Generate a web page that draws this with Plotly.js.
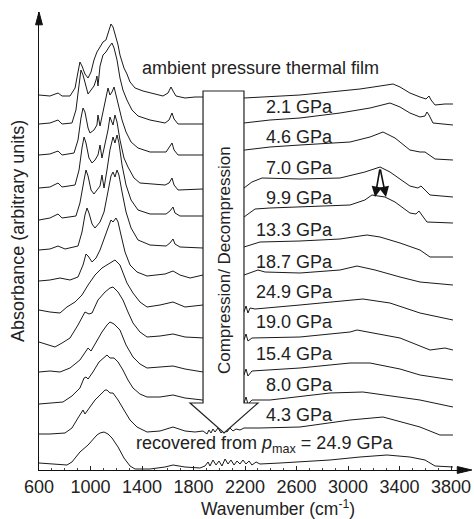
<!DOCTYPE html>
<html><head><meta charset="utf-8">
<script src="https://cdn.plot.ly/plotly-3.0.1.min.js"></script>
<style>html,body{margin:0;padding:0;background:#fff;}#chart{width:474px;height:519px;}</style>
</head><body><div id="chart"></div>
<script>
// Wavenumber (cm-1) and stacked absorbance (arbitrary units)
const wn_amb  = [600,685,748,779,841,880,903,918,934,957,981,1004,1027,1050,1074,1097,1120,1136,1159,1175,1190,1214,1229,1260,1283,1307,1346,1408,1501,1563,1602,1625,1641,1664,1734,1812,1874,1967,2192,2316,2627,2860,3093,3249,3350,3404,3481,3559,3606,3629,3645,3676,3753,3815];
const ab_amb  = [375,374,377,374,374,382,398,408,404,396,392,398,410,418,423,428,430,437,446,443,437,425,415,402,396,388,382,379,376,374,377,383,379,374,372,373,373,372,372,373,375,378,381,384,386,383,377,373,371,374,370,365,366,366];
const wn_p21  = [600,685,748,779,856,887,911,926,942,965,981,1004,1027,1043,1050,1058,1074,1097,1120,1144,1167,1183,1206,1229,1252,1283,1322,1369,1462,1579,1610,1633,1649,1680,1874,2005,2192,2394,2627,2938,3171,3326,3404,3481,3559,3598,3613,3629,3660,3815];
const ab_p21  = [346,347,350,346,347,360,385,400,395,382,376,380,384,390,394,384,404,415,418,423,427,422,410,392,380,370,360,354,350,347,350,357,351,346,346,346,347,350,352,357,362,367,363,357,353,354,358,355,347,345];
const wn_p46  = [600,685,748,779,872,903,926,942,957,981,996,1027,1050,1058,1074,1097,1120,1136,1151,1167,1183,1198,1221,1245,1276,1315,1369,1462,1587,1610,1633,1649,1680,1874,2005,2192,2394,2627,3016,3171,3272,3365,3481,3559,3598,3676,3815];
const ab_p46  = [315,316,319,315,317,330,352,362,358,342,337,340,345,355,344,358,370,382,375,378,383,375,362,350,338,328,322,318,318,322,327,320,315,315,317,320,323,325,328,333,338,332,320,318,318,311,310];
const wn_p70  = [600,685,748,779,880,911,934,950,965,988,1012,1035,1058,1074,1089,1113,1136,1151,1167,1175,1190,1206,1229,1260,1291,1338,1384,1579,1610,1633,1649,1680,1874,2005,2192,2254,2332,2627,2938,3131,3249,3326,3481,3543,3567,3590,3637,3815];
const ab_p70  = [282,283,287,283,285,300,322,333,327,312,307,310,315,325,312,325,340,353,347,345,355,348,330,312,303,292,287,285,287,292,285,280,281,281,282,288,292,291,292,298,303,298,284,282,284,281,275,273];
const wn_p99  = [600,685,748,779,887,918,950,965,981,1004,1027,1050,1074,1089,1105,1128,1151,1175,1190,1206,1221,1245,1276,1315,1369,1462,1587,1617,1641,1656,1695,1874,2005,2192,2278,2394,2627,3016,3131,3186,3287,3365,3481,3528,3551,3574,3613,3815];
const ab_p99  = [250,252,256,252,254,267,290,300,294,280,276,280,284,295,282,300,320,333,327,335,327,305,285,270,260,256,256,259,263,257,254,254,253,253,261,262,263,265,270,275,273,268,257,256,259,255,248,247];
const wn_p133 = [600,685,748,802,903,934,957,973,988,1012,1035,1074,1105,1136,1159,1175,1190,1206,1221,1245,1276,1315,1369,1462,1587,1617,1641,1656,1695,1874,2005,2192,2316,2627,2938,3093,3148,3249,3404,3559,3637,3815];
const ab_p133 = [220,221,224,221,224,238,255,262,257,246,242,248,258,280,294,298,293,300,295,278,258,242,230,225,224,227,231,226,223,222,222,223,228,229,231,234,235,233,227,220,213,213];
const wn_p187 = [600,685,763,841,903,942,965,981,1012,1043,1074,1105,1136,1159,1175,1198,1214,1237,1268,1307,1361,1439,1579,1641,1695,1773,1874,2005,2192,2301,2355,2627,2938,3070,3210,3404,3559,3815];
const ab_p187 = [189,190,192,190,193,205,216,214,208,212,220,230,242,250,248,252,248,235,218,205,198,194,196,199,195,192,195,195,195,200,198,197,200,204,200,193,188,185];
const wn_p249 = [600,685,763,817,880,934,981,1035,1089,1136,1190,1229,1283,1330,1384,1439,1540,1641,1734,1874,2005,2192,2208,2223,2239,2278,2627,3016,3116,3326,3559,3815];
const ab_p249 = [160,158,157,163,168,175,185,195,202,206,210,205,187,177,168,163,165,168,163,165,162,158,164,157,162,161,165,170,171,167,157,150];
const wn_d190 = [600,670,724,779,841,903,957,988,1012,1058,1113,1151,1175,1214,1252,1291,1330,1384,1439,1540,1641,1734,1874,2005,2192,2208,2223,2254,2627,3016,3070,3404,3637,3753,3815];
const ab_d190 = [128,125,123,127,132,145,158,156,157,170,178,182,183,178,170,158,147,138,133,134,136,133,132,131,130,136,129,132,133,138,140,132,120,122,120];
const wn_d154 = [600,685,763,841,918,965,981,1004,1043,1089,1128,1151,1183,1229,1276,1330,1384,1439,1540,1641,1734,1874,2005,2192,2208,2223,2254,2627,3016,3171,3404,3559,3815];
const ab_d154 = [98,99,98,102,110,120,122,119,128,138,145,148,146,140,125,113,106,102,103,104,101,98,97,95,101,94,99,102,107,107,101,95,90];
const wn_d80  = [600,685,786,856,918,950,965,981,1019,1066,1105,1128,1151,1183,1214,1252,1291,1330,1384,1439,1540,1641,1734,1874,2005,2192,2208,2223,2254,2394,2860,3116,3559,3815];
const ab_d80  = [66,67,68,74,82,92,93,91,98,108,113,115,112,112,108,100,90,82,76,73,73,75,72,70,68,67,73,66,70,70,77,78,70,63];
const wn_d43  = [600,685,802,856,903,934,942,957,981,1035,1082,1113,1128,1151,1175,1214,1260,1307,1361,1439,1540,1641,1734,1812,1874,1905,1920,1936,1951,1967,1990,2014,2037,2060,2083,2107,2130,2161,2192,2316,2627,3016,3272,3559,3714,3815];
const ab_d43  = [36,36,37,42,52,58,60,56,60,70,76,80,80,77,77,70,60,50,43,38,39,43,39,38,39,36,40,37,41,38,42,37,40,38,42,39,41,40,42,42,43,50,53,43,35,35];
const wn_rec  = [600,685,817,856,918,981,1019,1050,1074,1105,1136,1167,1214,1260,1307,1346,1462,1579,1641,1734,1850,1889,1913,1928,1951,1975,1998,2021,2045,2068,2091,2115,2138,2161,2184,2208,2231,2254,2286,2316,2472,2627,2860,3093,3303,3481,3598,3676,3815];
const ab_rec  = [7,6,5,8,18,25,30,35,37,38,36,32,23,12,4,1,1,3,5,3,2,4,8,4,10,5,9,4,11,6,10,5,9,6,10,6,9,5,8,6,7,8,10,13,15,13,10,4,3];

const seriesNames = ["ambient","2.1 GPa","4.6 GPa","7.0 GPa","9.9 GPa","13.3 GPa","18.7 GPa","24.9 GPa","19.0 GPa","15.4 GPa","8.0 GPa","4.3 GPa","recovered"];
const seriesX = [wn_amb,wn_p21,wn_p46,wn_p70,wn_p99,wn_p133,wn_p187,wn_p249,wn_d190,wn_d154,wn_d80,wn_d43,wn_rec];
const seriesY = [ab_amb,ab_p21,ab_p46,ab_p70,ab_p99,ab_p133,ab_p187,ab_p249,ab_d190,ab_d154,ab_d80,ab_d43,ab_rec];

const labelTexts = ["2.1 GPa","4.6 GPa","7.0 GPa","9.9 GPa","13.3 GPa","18.7 GPa","24.9 GPa","19.0 GPa","15.4 GPa","8.0 GPa","4.3 GPa"];
const labelLevels = [363,333,302,272,240,208,178,148,116,85,55];
const xTicks = [600,1000,1400,1800,2200,2600,3000,3400,3800];

const FONT = "Liberation Sans, Arial, sans-serif";
const traces = seriesX.map((x,i)=>({
  type:"scatter", mode:"lines", x:x, y:seriesY[i], name:seriesNames[i],
  line:{color:"#1a1a1a", width:1}, hoverinfo:"skip", showlegend:false
}));

const annotations = labelTexts.map((t,i)=>({
  x:2899, y:labelLevels[i], xref:"x", yref:"y", text:t, showarrow:false,
  xanchor:"right", yanchor:"middle", font:{family:FONT,size:18,color:"#222"}
}));
annotations.push(
  {x:2324,y:402,xref:"x",yref:"y",text:"ambient pressure thermal film",showarrow:false,xanchor:"center",yanchor:"middle",font:{family:FONT,size:18,color:"#222"}},
  {x:2355,y:26,xref:"x",yref:"y",text:"recovered from <i>p</i><sub>max</sub> = 24.9 GPa",showarrow:false,xanchor:"center",yanchor:"middle",font:{family:FONT,size:18,color:"#222"}},
  {x:2037,y:210,xref:"x",yref:"y",text:"Compression/ Decompression",textangle:-90,showarrow:false,xanchor:"center",yanchor:"middle",font:{family:FONT,size:17,color:"#222"}},
  {x:2456,y:-0.084,xref:"x",yref:"paper",text:"Wavenumber (cm<sup>-1</sup>)",showarrow:false,xanchor:"center",yanchor:"middle",font:{family:FONT,size:17.5,color:"#222"}},
  {x:-0.049,y:0.522,xref:"paper",yref:"paper",text:"Absorbance (arbitrary units)",textangle:-90,showarrow:false,xanchor:"center",yanchor:"middle",font:{family:FONT,size:18,color:"#222"}},
  {x:3210,y:273,ax:3249,ay:302,xref:"x",yref:"y",axref:"x",ayref:"y",text:"",showarrow:true,arrowhead:2,arrowsize:1.3,arrowwidth:1.6,arrowcolor:"#111"},
  {x:3295,y:273,ax:3249,ay:302,xref:"x",yref:"y",axref:"x",ayref:"y",text:"",showarrow:true,arrowhead:2,arrowsize:1.3,arrowwidth:1.6,arrowcolor:"#111"}
);

const shapes = [
  {type:"path", xref:"x", yref:"y", layer:"above",
   path:"M1874,379 L2192,379 L2192,67 L2301,67 L2037,37 L1773,67 L1874,67 Z",
   fillcolor:"#ffffff", line:{color:"#222",width:1.2}},
  {type:"path", xref:"paper", yref:"paper", layer:"above",
   path:"M0.975,-0.0075 L1.009,0 L0.975,0.0075 Z", fillcolor:"#111", line:{color:"#111",width:1}},
  {type:"path", xref:"paper", yref:"paper", layer:"above",
   path:"M-0.008,0.972 L0,1.0 L0.008,0.972 Z", fillcolor:"#111", line:{color:"#111",width:1}}
];

const layout = {
  width:474, height:519, margin:{l:39,r:6,t:12,b:49},
  paper_bgcolor:"#fff", plot_bgcolor:"#fff", showlegend:false,
  font:{family:FONT,size:18,color:"#222"},
  xaxis:{range:[600,3932], tickvals:xTicks, ticktext:xTicks.map(String), ticks:"inside", ticklen:4, tickcolor:"#222",
         ticklabelstandoff:0,
         minor:{dtick:100, tick0:600, ticks:"inside", ticklen:2.5, tickcolor:"#444"},
         showline:true, linecolor:"#111", linewidth:1.3, showgrid:false, zeroline:false,
         tickfont:{family:FONT,size:18,color:"#222"}, fixedrange:true},
  yaxis:{range:[0,458], showticklabels:false, ticks:"", showline:true, linecolor:"#111", linewidth:1.3,
         showgrid:false, zeroline:false, fixedrange:true},
  shapes:shapes, annotations:annotations
};
Plotly.newPlot("chart", traces, layout, {staticPlot:true, displayModeBar:false});
</script></body></html>
